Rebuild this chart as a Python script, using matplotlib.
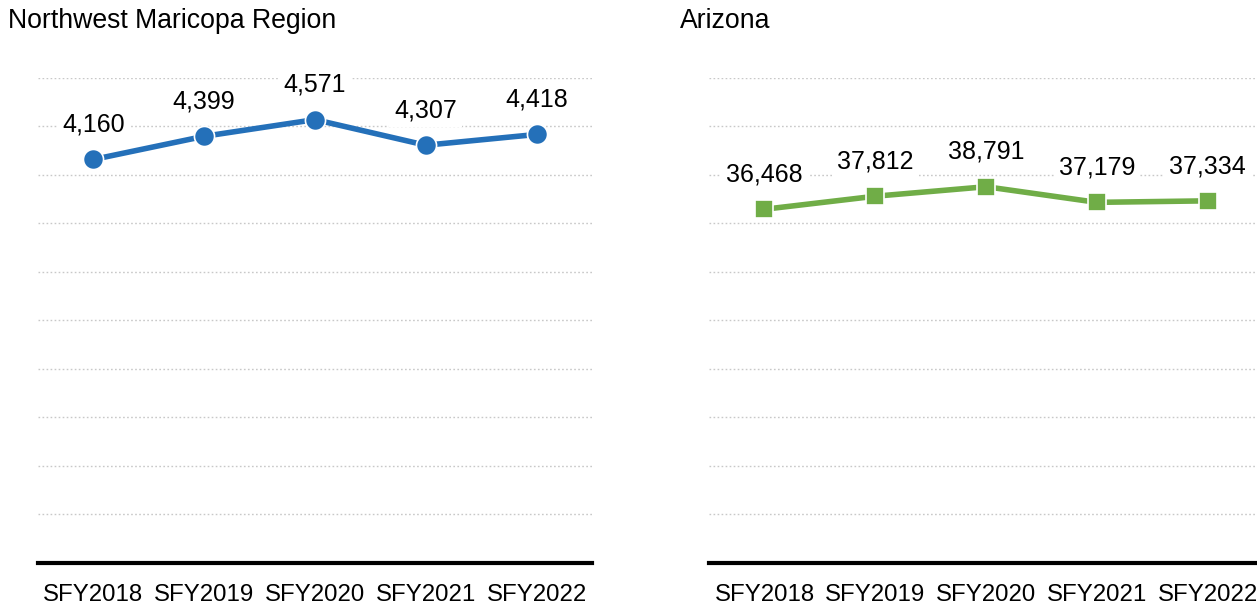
import matplotlib.pyplot as plt

plt.rcParams['font.family'] = ['Liberation Sans', 'DejaVu Sans']

years = ['SFY2018', 'SFY2019', 'SFY2020', 'SFY2021', 'SFY2022']
region_vals = [4160, 4399, 4571, 4307, 4418]
state_vals = [36468, 37812, 38791, 37179, 37334]

region_ticks = list(range(500, 5001, 500))
state_ticks = list(range(5000, 50001, 5000))

fig = plt.figure(figsize=(12.57, 6.06), dpi=100)
ax1 = fig.add_axes([0.0302, 0.0710, 0.4407, 0.8003])
ax2 = fig.add_axes([0.5641, 0.0710, 0.4407, 0.8003])


def draw_panel(ax, vals, ticks, color, marker, ms):
    x = range(len(years))
    for t in ticks:
        ax.axhline(t, color='#c8c8c8', lw=1, ls=(0, (1.2, 1.7)), zorder=1)
    ax.plot(x, vals, color=color, lw=4, marker=marker, ms=ms,
            mec='white', mew=1.2, zorder=3, clip_on=False)
    for i, v in enumerate(vals):
        ax.annotate(f'{v:,}', (i, v), xytext=(0, 25), textcoords='offset points',
                    ha='center', va='center', fontsize=18, color='black',
                    bbox=dict(boxstyle='square,pad=0.2', fc='white', ec='none'),
                    zorder=2)
    ax.set_xlim(-0.5, len(years) - 0.5)
    ax.set_ylim(0, ticks[-1])
    ax.set_xticks(list(x))
    ax.set_xticklabels(years, fontsize=17.3)
    ax.set_yticks([])
    ax.tick_params(axis='x', length=0, pad=15)
    for s in ['top', 'right', 'left']:
        ax.spines[s].set_visible(False)
    ax.spines['bottom'].set_linewidth(3)
    ax.spines['bottom'].set_color('black')


draw_panel(ax1, region_vals, region_ticks, '#2470b9', 'o', 14.5)
draw_panel(ax2, state_vals, state_ticks, '#70ad47', 's', 13)

fig.text(8 / 1257, 1 - 21 / 606, 'Northwest Maricopa Region',
         fontsize=19.2, ha='left', va='center')
fig.text(680 / 1257, 1 - 21 / 606, 'Arizona',
         fontsize=19.2, ha='left', va='center')

fig.savefig('out.png', dpi=100)
